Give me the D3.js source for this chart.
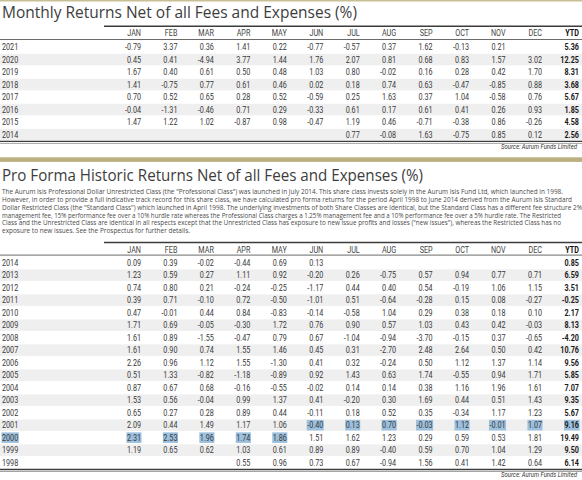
<!DOCTYPE html>
<html><head><meta charset="utf-8">
<script src="https://cdn.jsdelivr.net/npm/d3@7"></script>
<style>
html,body{margin:0;padding:0;background:#fff;}
svg{display:block;}
</style></head>
<body>
<svg id="c" width="582" height="480"></svg>
<script>
const months = ["JAN","FEB","MAR","APR","MAY","JUN","JUL","AUG","SEP","OCT","NOV","DEC"];
const ytdLabel = "YTD";

const title1 = "Monthly Returns Net of all Fees and Expenses (%)";
const title2 = "Pro Forma Historic Returns Net of all Fees and Expenses (%)";
const source = "Source: Aurum Funds Limited";
const paragraph = [
  "The Aurum Isis Professional Dollar Unrestricted Class (the \"Professional Class\") was launched in July 2014. This share class invests solely in the Aurum Isis Fund Ltd, which launched in 1998.",
  "However, in order to provide a full indicative track record for this share class, we have calculated pro forma returns for the period April 1998 to June 2014 derived from the Aurum Isis Standard",
  "Dollar Restricted Class (the \"Standard Class\") which launched in April 1998.  The underlying investments of both Share Classes are identical, but the Standard Class has a different fee structure 2%",
  "management fee, 15% performance fee over a 10% hurdle rate whereas the Professional Class charges a 1.25% management fee and a 10% performance fee over a 5% hurdle rate. The Restricted",
  "Class and the Unrestricted Class are identical in all respects except that the Unrestricted Class has exposure to new issue profits and losses (\"new issues\"), whereas the Restricted Class has no",
  "exposure to new issues.  See the Prospectus for further details."
];

const years1 = ["2021","2020","2019","2018","2017","2016","2015","2014"];
const returns1 = [
  ["-0.79","3.37","0.36","1.41","0.22","-0.77","-0.57","0.37","1.62","-0.13","0.21",""],
  ["0.45","0.41","-4.94","3.77","1.44","1.76","2.07","0.81","0.68","0.83","1.57","3.02"],
  ["1.67","0.40","0.61","0.50","0.48","1.03","0.80","-0.02","0.16","0.28","0.42","1.70"],
  ["1.41","-0.75","0.77","0.61","0.46","0.02","0.18","0.74","0.63","-0.47","-0.85","0.88"],
  ["0.70","0.52","0.65","0.28","0.52","-0.59","0.25","1.63","0.37","1.04","-0.58","0.76"],
  ["-0.04","-1.31","-0.46","0.71","0.29","-0.33","0.61","0.17","0.61","0.41","0.26","0.93"],
  ["1.47","1.22","1.02","-0.87","0.98","-0.47","1.19","0.46","-0.71","-0.38","0.86","-0.26"],
  ["","","","","","","0.77","-0.08","1.63","-0.75","0.85","0.12"]
];
const ytd1 = ["5.36","12.25","8.31","3.68","5.67","1.85","4.58","2.56"];

const years2 = ["2014","2013","2012","2011","2010","2009","2008","2007","2006","2005","2004","2003","2002","2001","2000","1999","1998"];
const returns2 = [
  ["0.09","0.39","-0.02","-0.44","0.69","0.13","","","","","",""],
  ["1.23","0.59","0.27","1.11","0.92","-0.20","0.26","-0.75","0.57","0.94","0.77","0.71"],
  ["0.74","0.80","0.21","-0.24","-0.25","-1.17","0.44","0.40","0.54","-0.19","1.06","1.15"],
  ["0.39","0.71","-0.10","0.72","-0.50","-1.01","0.51","-0.64","-0.28","0.15","0.08","-0.27"],
  ["0.47","-0.01","0.44","0.84","-0.83","-0.14","-0.58","1.04","0.29","0.38","0.18","0.10"],
  ["1.71","0.69","-0.05","-0.30","1.72","0.76","0.90","0.57","1.03","0.43","0.42","-0.03"],
  ["1.61","0.89","-1.55","-0.47","0.79","0.67","-1.04","-0.94","-3.70","-0.15","0.37","-0.65"],
  ["1.61","0.90","0.74","1.55","1.46","0.45","0.31","-2.70","2.48","2.64","0.50","0.42"],
  ["2.26","0.96","1.12","1.55","-1.30","0.41","0.32","-0.24","0.50","1.12","1.37","1.14"],
  ["0.51","1.33","-0.82","-1.18","-0.89","0.92","1.43","0.63","1.74","-0.55","0.94","1.71"],
  ["0.87","0.67","0.68","-0.16","-0.55","-0.02","0.14","0.14","0.38","1.16","1.96","1.61"],
  ["1.53","0.56","-0.04","0.99","1.37","0.41","-0.20","0.30","1.69","0.44","0.51","1.43"],
  ["0.65","0.27","0.28","0.89","0.44","-0.11","0.18","0.52","0.35","-0.34","1.17","1.23"],
  ["2.09","0.44","1.49","1.17","1.06","-0.40","0.13","0.70","-0.03","1.12","-0.01","1.07"],
  ["2.31","2.53","1.96","1.74","1.86","1.51","1.62","1.23","0.29","0.59","0.53","1.81"],
  ["1.19","0.65","0.62","1.03","0.61","0.89","0.89","-0.40","0.59","0.70","1.04","1.29"],
  ["","","","0.55","0.96","0.73","0.67","-0.94","1.56","0.41","1.42","0.64"]
];
const ytd2 = ["0.85","6.59","3.51","-0.25","2.17","8.13","-4.20","10.76","9.56","5.85","7.07","9.35","5.67","9.16","19.49","9.50","6.14"];

// selection highlight (as seen in the picture): [year, first col, last col]; col -1 = year label, 12 = YTD
const highlights = [["2001",5,12],["2000",-1,4]];

const svg = d3.select("#c");
const FONT = "Roboto, 'Noto Sans', sans-serif";
const SX = 0.84;
const TXT = "#3a3a3a";

const x = d3.scalePoint().domain(months).range([141,542]);
const xYtd = d3.scalePoint().domain([ytdLabel]).range([579,579]);
const colX = i => i === 12 ? xYtd(ytdLabel) : x(months[i]);

// top decoration
svg.append("rect").attr("x",0).attr("y",0).attr("width",582).attr("height",1.5).attr("fill","#c9bf95");

svg.append("text").attr("x",2).attr("y",17.5).attr("font-family","'Open Sans', sans-serif")
  .attr("font-size",16.5).attr("fill","#3d3d3d").attr("textLength",355).attr("lengthAdjust","spacingAndGlyphs").text(title1);

function table(years, rows, ytd, y0, headerY, hl){
  const y = d3.scaleBand().domain(years).range([y0, y0 + years.length*12.5]);
  const g = svg.append("g");
  g.selectAll("rect.stripe").data(years.filter((d,i)=>i%2===1)).join("rect")
    .attr("x",0).attr("width",582).attr("y",d=>y(d)+0.5).attr("height",y.bandwidth()-1).attr("fill","#efefef");
  g.append("line").attr("x1",104).attr("x2",582).attr("y1",headerY-7).attr("y2",headerY-7).attr("stroke","#3c3c3c").attr("stroke-width",1.6);
  g.append("line").attr("x1",0).attr("x2",582).attr("y1",y0-1.3).attr("y2",y0-1.3).attr("stroke","#5a5a5a").attr("stroke-width",0.9);
  const hdr = months.concat([ytdLabel]);
  g.selectAll("text.h").data(hdr).join("text")
    .attr("transform",(d,i)=>`translate(${colX(i)},${headerY}) scale(${SX},1)`)
    .attr("text-anchor","end").attr("dy","0.35em").attr("font-family",FONT).attr("font-size",8.6)
    .attr("font-weight",(d,i)=>i===12?"bold":"normal").attr("fill",(d,i)=>i===12?"#111":"#444").text(d=>d);
  const hlG = g.append("g");
  const rowG = g.selectAll("g.row").data(years).join("g").attr("class","row");
  const cells = [];
  rowG.each(function(yr, r){
    const rg = d3.select(this);
    const cy = y(yr) + y.bandwidth()/2;
    const t = rg.append("text").attr("transform",`translate(2,${cy}) scale(${SX},1)`).attr("dy","0.35em")
      .attr("font-family",FONT).attr("font-size",8.6).attr("fill",TXT).text(yr);
    cells.push({yr, col:-1, node:t.node(), cx:2, cy, anchor:"start"});
    const vals = rows[r].concat([ytd[r]]);
    rg.selectAll("text.v").data(vals).join("text")
      .attr("transform",(d,i)=>`translate(${colX(i)},${cy}) scale(${SX},1)`)
      .attr("text-anchor","end").attr("dy","0.35em").attr("font-family",FONT).attr("font-size",8.6)
      .attr("font-weight",(d,i)=>i===12?"bold":"normal")
      .attr("fill",(d,i)=>i===12?"#1a1a1a":TXT).text(d=>d)
      .each(function(d,i){ cells.push({yr, col:i, node:this, cx:colX(i), cy, anchor:"end"}); });
  });
  hl.forEach(([yr,c0,c1])=>{
    cells.filter(c=>c.yr===yr && c.col>=c0 && c.col<=c1 && c.node.textContent!=="").forEach(c=>{
      const w = c.node.getComputedTextLength()*SX;
      const x0 = c.anchor==="end" ? c.cx - w : c.cx;
      hlG.append("rect").attr("x",x0-0.5).attr("y",c.cy-5.3).attr("width",w+1).attr("height",10.6).attr("fill","#9cc0de");
    });
  });
  const yb = y0 + years.length*12.5;
  g.append("line").attr("x1",0).attr("x2",582).attr("y1",yb+0.6).attr("y2",yb+0.6).attr("stroke","#3c3c3c").attr("stroke-width",1.3);
  g.append("line").attr("x1",0).attr("x2",582).attr("y1",yb+2.6).attr("y2",yb+2.6).attr("stroke","#9a9a9a").attr("stroke-width",0.9);
  g.append("text").attr("x",577).attr("y",yb+8.5).attr("text-anchor","end").attr("font-family",FONT)
    .attr("font-style","italic").attr("font-size",6.3).attr("fill","#333").attr("textLength",76).attr("lengthAdjust","spacingAndGlyphs").text(source);
  return g;
}

table(years1, returns1, ytd1, 40.8, 33.3, []);

svg.append("rect").attr("x",0).attr("y",157.3).attr("width",582).attr("height",4.6).attr("fill","#bcb082");
svg.append("text").attr("x",2).attr("y",180.5).attr("font-family","'Open Sans', sans-serif")
  .attr("font-size",16).attr("fill","#3d3d3d").attr("textLength",421).attr("lengthAdjust","spacingAndGlyphs").text(title2);

const paraW = [563, 572, 582, 561, 561, 190];
svg.selectAll("text.para").data(paragraph).join("text")
  .attr("x",2).attr("y",(d,i)=>194 + i*7.85).attr("font-family","'Open Sans', sans-serif").attr("font-size",6.2)
  .attr("fill","#4a4a4a").attr("textLength",(d,i)=>paraW[i]-2).attr("lengthAdjust","spacingAndGlyphs").text(d=>d);

table(years2, returns2, ytd2, 256.4, 249.5, highlights);
</script>
</body></html>
